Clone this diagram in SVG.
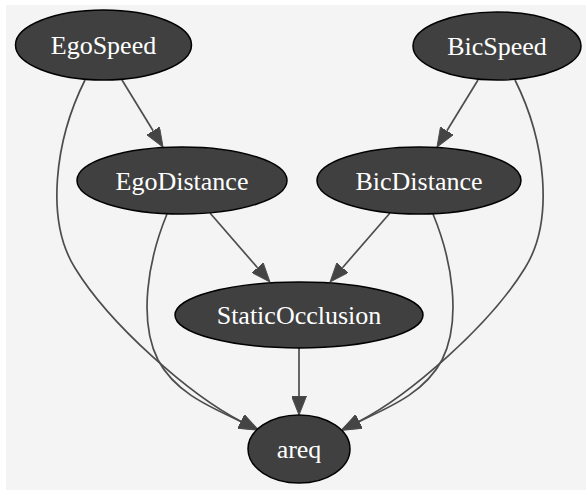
<svg xmlns="http://www.w3.org/2000/svg" width="586" height="490" viewBox="0 0 586 490">
<style>
.node ellipse{fill:#404040;stroke:#000;stroke-width:1.5}
.node text{fill:#fff;font-size:26px;text-anchor:middle;font-family:'Liberation Serif','Times New Roman',Times,serif}
.edge{fill:none;stroke:#4d4d4d;stroke-width:1.7}
</style>
<defs>
<marker id="arr" viewBox="0 0 19 15" refX="0" refY="7.5" markerWidth="19" markerHeight="15" markerUnits="userSpaceOnUse" orient="auto">
<path d="M0,0 L19,7.5 L0,15 Z" fill="#444" stroke="#4d4d4d" stroke-width="1"/>
</marker>
</defs>
<rect x="0" y="0" width="586" height="490" fill="#fff"/>
<rect x="6" y="5" width="580" height="485" fill="#f4f4f4"/>
<g id="edges">
<path class="edge" marker-end="url(#arr)" d="M122,80 L153.1,130.8"/>
<path class="edge" marker-end="url(#arr)" d="M478,80 L446.9,130.8"/>
<path class="edge" marker-end="url(#arr)" d="M210,213 L257.5,267.7"/>
<path class="edge" marker-end="url(#arr)" d="M390,213 L342.5,267.7"/>
<path class="edge" marker-end="url(#arr)" d="M299,348 L299,396"/>
<path class="edge" marker-end="url(#arr)" d="M85,80 C55,140 45,220 75,268 C110,325 190,395 241,421.5"/>
<path class="edge" marker-end="url(#arr)" d="M167,214 C148,260 138,320 158,360 C175,392 208,406 241,421.5"/>
<path class="edge" marker-end="url(#arr)" d="M515,80 C545,140 555,220 525,268 C490,325 410,395 359,421.5"/>
<path class="edge" marker-end="url(#arr)" d="M433,214 C452,260 462,320 442,360 C425,392 392,406 359,421.5"/>
</g>
<g id="EgoSpeed" class="node"><ellipse cx="103.5" cy="45" rx="88" ry="35"/><text x="103.5" y="54">EgoSpeed</text></g>
<g id="BicSpeed" class="node"><ellipse cx="497" cy="46" rx="84" ry="34"/><text x="497" y="55">BicSpeed</text></g>
<g id="EgoDistance" class="node"><ellipse cx="182" cy="180.5" rx="105" ry="33.5"/><text x="182" y="189.5">EgoDistance</text></g>
<g id="BicDistance" class="node"><ellipse cx="419" cy="180.5" rx="102" ry="33.5"/><text x="419" y="189.5">BicDistance</text></g>
<g id="StaticOcclusion" class="node"><ellipse cx="299" cy="315" rx="124" ry="33"/><text x="299" y="324">StaticOcclusion</text></g>
<g id="areq" class="node"><ellipse cx="299" cy="449" rx="51" ry="34"/><text x="299" y="458">areq</text></g>
</svg>
